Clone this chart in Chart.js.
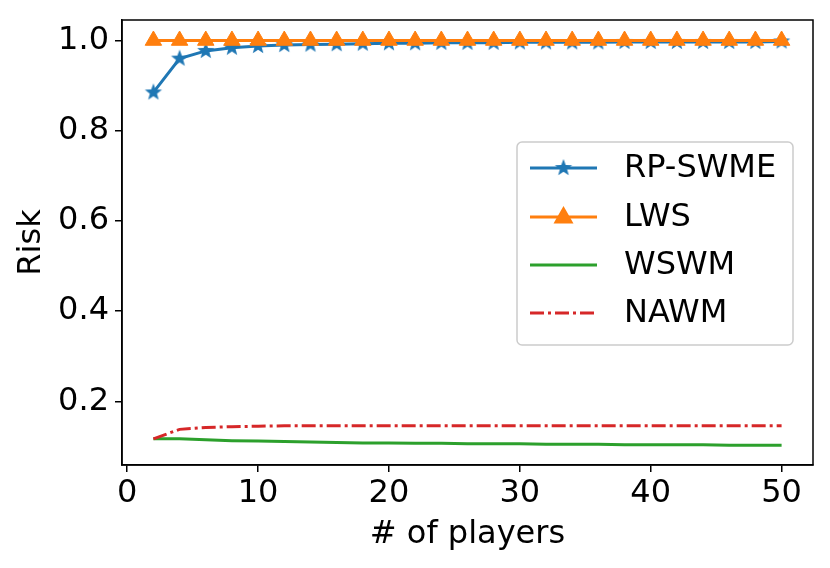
<!DOCTYPE html>
<html>
<head>
<meta charset="utf-8">
<script src="https://cdn.jsdelivr.net/npm/chart.js@4.4.1/dist/chart.umd.min.js"></script>
<style>
  body { margin: 0; background: #fff; }
  #wrap { width: 830px; height: 568px; }
</style>
</head>
<body>
<div id="wrap"><canvas id="myChart" width="830" height="568"></canvas></div>
<script>
const players = [2, 4, 6, 8, 10, 12, 14, 16, 18, 20, 22, 24, 26, 28, 30, 32, 34, 36, 38, 40, 42, 44, 46, 48, 50];
const rpSwme = [0.885, 0.960, 0.977, 0.984, 0.988, 0.990, 0.991, 0.992, 0.993, 0.994, 0.994, 0.995, 0.995,
                0.995, 0.996, 0.996, 0.996, 0.996, 0.997, 0.997, 0.997, 0.997, 0.997, 0.997, 0.998];
const lws = [1.0, 1.0, 1.0, 1.0, 1.0, 1.0, 1.0, 1.0, 1.0, 1.0, 1.0, 1.0, 1.0,
             1.0, 1.0, 1.0, 1.0, 1.0, 1.0, 1.0, 1.0, 1.0, 1.0, 1.0, 1.0];
const wswm = [0.117, 0.117, 0.115, 0.113, 0.112, 0.111, 0.110, 0.109, 0.108, 0.108, 0.107, 0.107, 0.106,
              0.106, 0.106, 0.105, 0.105, 0.105, 0.104, 0.104, 0.104, 0.104, 0.103, 0.103, 0.103];
const nawm = [0.117, 0.138, 0.142, 0.144, 0.145, 0.146, 0.146, 0.146, 0.146, 0.146, 0.146, 0.146, 0.146,
              0.146, 0.146, 0.146, 0.146, 0.146, 0.146, 0.146, 0.146, 0.146, 0.146, 0.146, 0.146];
const xTicks = [0, 10, 20, 30, 40, 50];
const yTicks = [0.2, 0.4, 0.6, 0.8, 1.0];

const FONT = "'DejaVu Sans', sans-serif";
const FSIZE = 32;
const blue = '#1f77b4', orange = '#ff7f0e', green = '#2ca02c', red = '#d62728';

// filled 5-point star like matplotlib '*'
function makeStar(r, color) {
  const c = document.createElement('canvas');
  const s = Math.ceil(r * 2 + 4);
  c.width = s; c.height = s;
  const g = c.getContext('2d');
  g.fillStyle = color;
  g.beginPath();
  for (let i = 0; i < 10; i++) {
    const rr = i % 2 === 0 ? r : r * 0.42;
    const a = -Math.PI / 2 + i * Math.PI / 5;
    const px = s / 2 + rr * Math.cos(a), py = s / 2 + rr * Math.sin(a);
    if (i === 0) g.moveTo(px, py); else g.lineTo(px, py);
  }
  g.closePath();
  g.fill();
  return c;
}
const star = makeStar(9, blue);

const toXY = arr => arr.map((v, i) => ({x: players[i], y: v}));

const boxPlugin = {
  id: 'frameAndLegend',
  afterDraw(chart) {
    const ctx = chart.ctx, a = chart.chartArea;
    ctx.save();
    ctx.strokeStyle = '#000';
    ctx.lineWidth = 1.5;
    ctx.strokeRect(a.left, a.top, a.right - a.left, a.bottom - a.top);

    // legend
    const lx = 517, ly = 142, lw = 276, lh = 203, rad = 5;
    ctx.beginPath();
    ctx.roundRect(lx, ly, lw, lh, rad);
    ctx.fillStyle = 'rgba(255,255,255,0.8)';
    ctx.fill();
    ctx.strokeStyle = '#cccccc';
    ctx.lineWidth = 1.5;
    ctx.stroke();

    const items = [
      {label: 'RP-SWME', color: blue, dash: [], marker: 'star'},
      {label: 'LWS', color: orange, dash: [], marker: 'triangle'},
      {label: 'WSWM', color: green, dash: [], marker: null},
      {label: 'NAWM', color: red, dash: [14, 4, 3, 4], marker: null}
    ];
    const rows = [168, 217, 265, 313];
    items.forEach((it, i) => {
      const y = rows[i];
      ctx.beginPath();
      ctx.setLineDash(it.dash);
      ctx.strokeStyle = it.color;
      ctx.lineWidth = 3;
      ctx.moveTo(530, y);
      ctx.lineTo(597, y);
      ctx.stroke();
      ctx.setLineDash([]);
      if (it.marker === 'star') {
        ctx.drawImage(star, 563.5 - star.width / 2, y - star.height / 2);
      } else if (it.marker === 'triangle') {
        ctx.fillStyle = it.color;
        ctx.beginPath();
        ctx.moveTo(563.5, y - 11);
        ctx.lineTo(563.5 + 10, y + 6.5);
        ctx.lineTo(563.5 - 10, y + 6.5);
        ctx.closePath();
        ctx.fill();
      }
      ctx.fillStyle = '#000';
      ctx.font = FSIZE + 'px ' + FONT;
      ctx.textBaseline = 'middle';
      ctx.textAlign = 'left';
      ctx.fillText(it.label, 624, y + 1);
    });
    ctx.restore();
  }
};

const ctx = document.getElementById('myChart');

const data = {
  datasets: [
    {
      label: 'RP-SWME', data: toXY(rpSwme), borderColor: blue, backgroundColor: blue,
      borderWidth: 3, pointStyle: star, pointRadius: 9, order: 2
    },
    {
      label: 'LWS', data: toXY(lws), borderColor: orange, backgroundColor: orange,
      borderWidth: 3, pointStyle: 'triangle', pointRadius: 9.5, pointBorderWidth: 1, order: 1
    },
    {
      label: 'WSWM', data: toXY(wswm), borderColor: green, borderWidth: 3, pointRadius: 0, order: 4
    },
    {
      label: 'NAWM', data: toXY(nawm), borderColor: red, borderWidth: 3, pointRadius: 0,
      borderDash: [14, 4, 3, 4], order: 3
    }
  ]
};

const config = {
  type: 'line',
  data: data,
  options: {
    responsive: false,
    animation: false,
    devicePixelRatio: 1,
    layout: { padding: { top: 20, right: 17, left: 0, bottom: 0 } },
    plugins: { legend: { display: false }, tooltip: { enabled: false } },
    scales: {
      x: {
        type: 'linear', min: -0.4, max: 52.4,
        afterFit(s) { s.height = 103; s.paddingLeft = 0; s.paddingRight = 0; },
        afterBuildTicks(s) { s.ticks = xTicks.map(v => ({value: v})); },
        grid: { display: true, drawOnChartArea: false, drawTicks: true, tickLength: 7, color: '#000', lineWidth: 1.5 },
        border: { display: true, color: '#000', width: 1.5 },
        ticks: { color: '#000', font: { family: FONT, size: FSIZE }, padding: 2, maxRotation: 0,
                 callback: v => String(v) },
        title: { display: true, text: '# of players', color: '#000', font: { family: FONT, size: FSIZE },
                 padding: { top: 0, bottom: 14 } }
      },
      y: {
        type: 'linear', min: 0.059, max: 1.0455,
        afterFit(s) { s.width = 122; s.paddingTop = 0; s.paddingBottom = 0; },
        afterBuildTicks(s) { s.ticks = yTicks.map(v => ({value: v})); },
        grid: { display: true, drawOnChartArea: false, drawTicks: true, tickLength: 7, color: '#000', lineWidth: 1.5 },
        border: { display: true, color: '#000', width: 1.5 },
        ticks: { color: '#000', font: { family: FONT, size: FSIZE }, padding: 6,
                 callback: v => v.toFixed(1) },
        title: { display: true, text: 'Risk', color: '#000', font: { family: FONT, size: FSIZE },
                 padding: { top: 12, bottom: 0 } }
      }
    }
  },
  plugins: [boxPlugin]
};

const myChart = new Chart(ctx, config);
</script>
</body>
</html>
